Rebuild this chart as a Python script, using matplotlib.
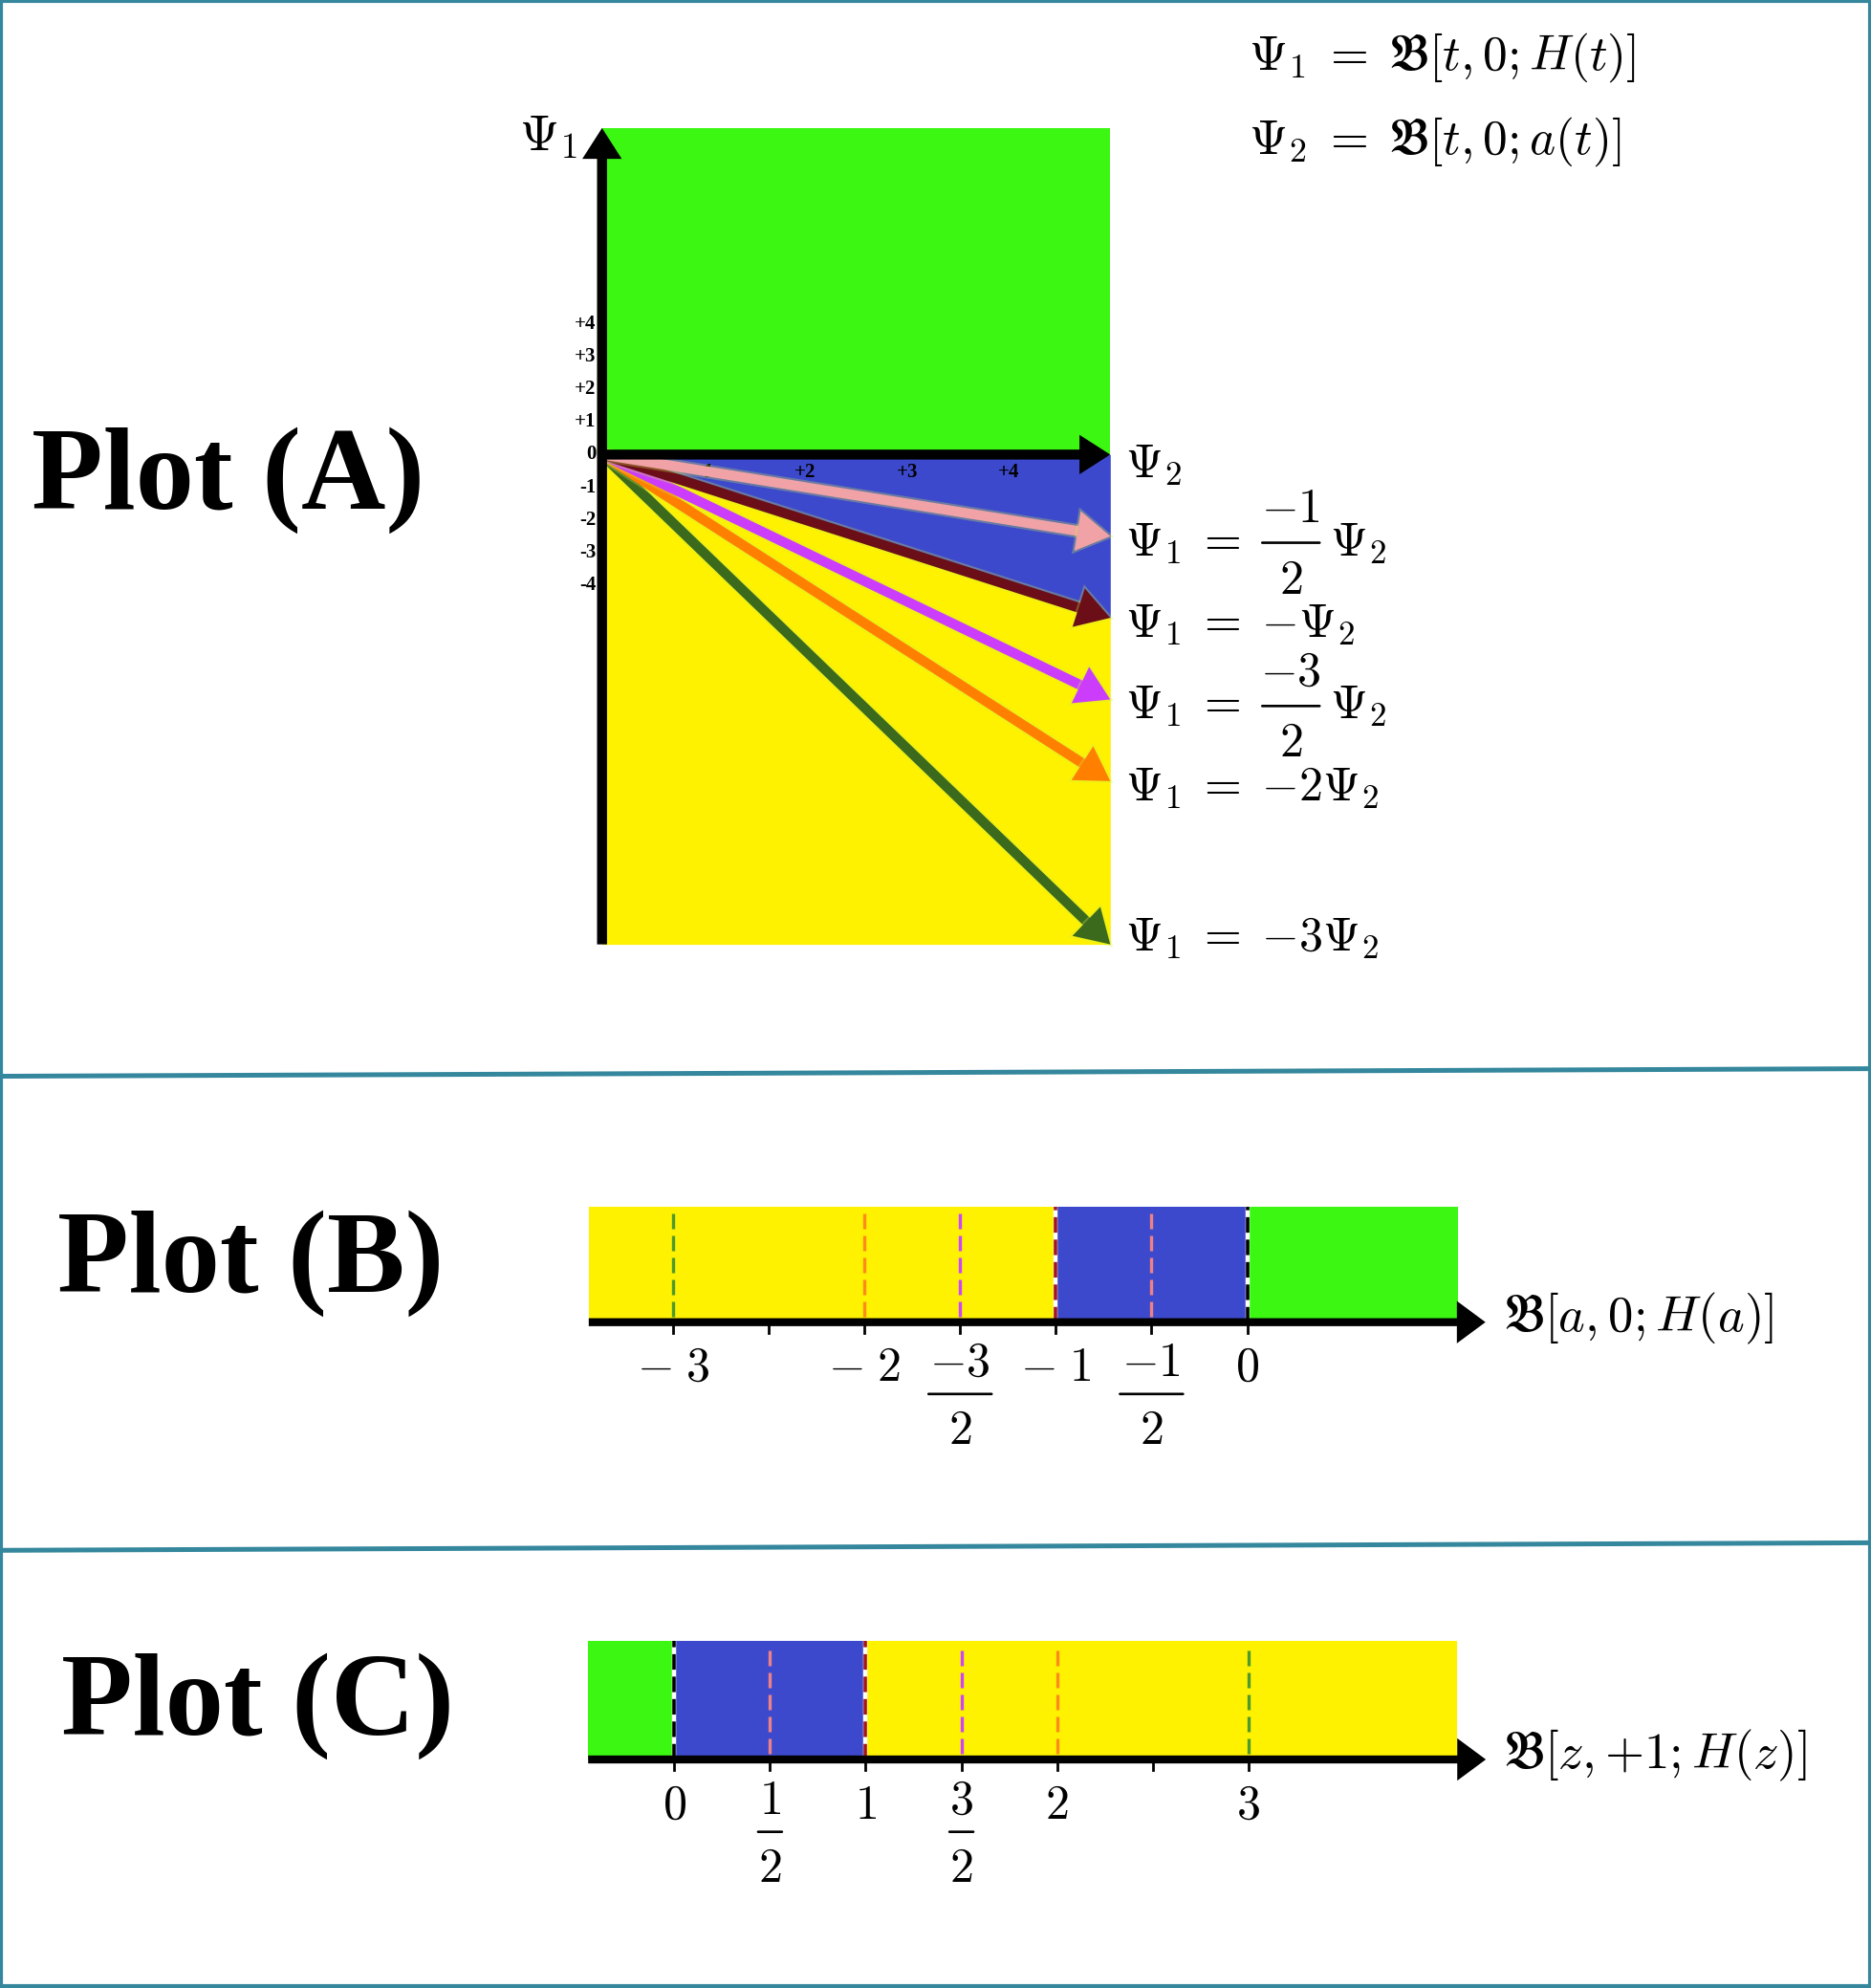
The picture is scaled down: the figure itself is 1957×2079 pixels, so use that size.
import numpy as np
import matplotlib
matplotlib.use("Agg")
import matplotlib.pyplot as plt
from matplotlib.lines import Line2D
from matplotlib.transforms import offset_copy
import matplotlib.patheffects as pe

plt.rcParams['mathtext.fontset'] = 'cm'

# ---------------- data ----------------
# Plot (A)
psi1_ticks = [4, 3, 2, 1, 0, -1, -2, -3, -4]
psi2_ticks = [1, 2, 3, 4]
psi2_max = 5
psi1_min, psi1_max = -15, 10
slopes = [-0.5, -1, -1.5, -2, -3]
# coefficient of Psi_2 in each line label: plain string or (numerator, denominator)
slope_coef = [('-1', '2'), '{-}', ('-3', '2'), '{-}2', '{-}3']
arrow_colors = ['#F0A2A6', '#6B0E18', '#CC3CFB', '#FF8000', '#3C6A1C']
blue_boundary_slope = -1

# Plot (B)
b_ticks = [-3, -2.5, -2, -1.5, -1, -0.5, 0]
b_ticklabels = [r'$-\;3$', '', r'$-\;2$', ('-3', '2'), r'$-\;1$', ('-1', '2'), r'$0$']
b_dash_pos = [-3, -2, -1.5, -1, -0.5, 0]
b_dash_colors = ['#4E9A2C', '#FF8A1C', '#CC44FF', '#A3141F', '#EE8088', 'black']
b_regions = [(-3.44, -1, 'yellow'), (-1, 0, 'blue'), (0, 1.10, 'green')]
b_xlim = (-3.44, 1.10)
b_arrow_end = 1.245
b_label = r'$\mathfrak{B}[a, 0; H(a)]$'

# Plot (C)
c_ticks = [0, 0.5, 1, 1.5, 2, 2.5, 3]
c_ticklabels = [r'$0$', ('1', '2'), r'$1$', ('3', '2'), r'$2$', '', r'$3$']
c_dash_pos = [0, 0.5, 1, 1.5, 2, 3]
c_dash_colors = ['black', '#EE8088', '#A3141F', '#CC44FF', '#FF8A1C', '#4E9A2C']
c_regions = [(-0.45, 0, 'green'), (0, 1, 'blue'), (1, 4.09, 'yellow')]
c_xlim = (-0.45, 4.09)
c_arrow_end = 4.24
c_label = r'$\mathfrak{B}[z, {+}1; H(z)]$'

COLORS = {'green': '#3BF712', 'blue': '#3D49CC', 'yellow': '#FEF200'}
TEAL = '#34879C'

# ---------------- figure ----------------
W, H = 1958, 2079
DPI = 100
fig = plt.figure(figsize=(W / DPI, H / DPI), dpi=DPI)
fig.patch.set_facecolor('white')


def rect(x0, y0, x1, y1):
    return [x0 / W, 1 - y1 / H, (x1 - x0) / W, (y1 - y0) / H]


def fig_line(x0, y0, x1, y1, **kw):
    fig.add_artist(Line2D([x0 / W, x1 / W], [1 - y0 / H, 1 - y1 / H],
                          transform=fig.transFigure, **kw))


def off(ax, dx, dy):
    return offset_copy(ax.transData, fig=fig, x=dx, y=dy, units='dots')


def stacked_frac(ax, x, y, num, den, fs, bar_w, dx=0, num_dy=0, bar_dy=-56, den_dy=-71):
    """fraction whose numerator top sits num_dy px from (x, y)"""
    ax.text(x, y, f'${num}$', fontsize=fs, ha='center', va='top',
            transform=off(ax, dx, num_dy))
    ax.annotate('', xy=(x, y), xytext=(x, y), xycoords=off(ax, dx + bar_w / 2, bar_dy),
                textcoords=off(ax, dx - bar_w / 2, bar_dy), annotation_clip=False,
                arrowprops=dict(arrowstyle='-', lw=1.9, color='black',
                                shrinkA=0, shrinkB=0))
    ax.text(x, y, f'${den}$', fontsize=fs, ha='center', va='top',
            transform=off(ax, dx, den_dy))


def sharp_arrow(ax, start, end, color, lw, hl, hw, zorder, halo=False):
    ann = ax.annotate('', xy=end, xytext=start, annotation_clip=False,
                      arrowprops=dict(arrowstyle=f'-|>,head_length={hl},head_width={hw}',
                                      lw=lw, color=color, shrinkA=0, shrinkB=0,
                                      mutation_scale=10), zorder=zorder)
    ann.arrow_patch.set_joinstyle('miter')
    ann.arrow_patch.set_capstyle('butt')
    if halo:
        ann.arrow_patch.set_path_effects([pe.Stroke(linewidth=lw + 3, foreground='#D2EE45',
                                                    alpha=0.3), pe.Normal()])
    return ann


# border and dividers
fig_line(0, 1, W, 1, color=TEAL, lw=3)
fig_line(1, 0, 1, H, color=TEAL, lw=3)
fig_line(W - 2, 0, W - 2, H, color=TEAL, lw=3)
fig_line(0, H - 2, W, H - 2, color=TEAL, lw=3)
fig_line(0, 1125.5, W, 1117.6, color=TEAL, lw=3.6)
fig_line(0, 1621.3, W, 1613.4, color=TEAL, lw=3.6)

# panel titles
title_kw = dict(fontsize=88, fontweight='bold', family='Liberation Serif',
                ha='left', va='center', transform=fig.transFigure)
fig.text(33 / W, 1 - 502 / H, 'Plot (A)', **title_kw)
fig.text(60 / W, 1 - 1321 / H, 'Plot (B)', **title_kw)
fig.text(64 / W, 1 - 1784 / H, 'Plot (C)', **title_kw)

MATH_FS = 36

# ---------------- Plot (A) ----------------
axA = fig.add_axes(rect(629.7, 133.9, 1161.3, 987.6))
axA.set_xlim(0, psi2_max)
axA.set_ylim(psi1_min, psi1_max)
axA.axis('off')
xs = np.array([0.0, psi2_max])
axA.fill_between(xs, 0, psi1_max, color=COLORS['green'], lw=0, zorder=1)
axA.fill_between(xs, 0, blue_boundary_slope * xs, color=COLORS['blue'], lw=0, zorder=1)
axA.fill_between(xs, blue_boundary_slope * xs, psi1_min, color=COLORS['yellow'], lw=0, zorder=1)

tick_kw = dict(fontsize=15, fontweight='bold', family='Liberation Serif', zorder=3)
for v in psi1_ticks:
    axA.text(-0.06, v, f'{v:+d}' if v != 0 else '0', ha='right', va='center', **tick_kw)
for v in psi2_ticks:
    axA.text(v, -0.55, f'{v:+d}', ha='center', va='center', **tick_kw)

sharp_arrow(axA, (0, 0), (psi2_max, 0), 'black', 7.5, 1.25, 0.8, 5)
sharp_arrow(axA, (0, psi1_min), (0, psi1_max), 'black', 7.5, 1.25, 0.8, 5)

for i in [4, 3, 2, 1, 0]:
    s, c = slopes[i], arrow_colors[i]
    sharp_arrow(axA, (0, 0), (psi2_max, s * psi2_max), c, 7.5, 1.4, 0.85, 4, halo=True)

for s, coef in zip(slopes, slope_coef):
    y = max(s * psi2_max - 0.2, psi1_min + 0.2)
    if isinstance(coef, tuple):
        axA.text(5.15, y, r'$\Psi_1\;=\;$', fontsize=MATH_FS, ha='left', va='center', zorder=6)
        stacked_frac(axA, 5.15, y, coef[0], coef[1], MATH_FS, 60, dx=173,
                     num_dy=60, bar_dy=0, den_dy=-15)
        axA.text(5.15, y, r'$\Psi_2$', fontsize=MATH_FS, ha='left', va='center',
                 transform=off(axA, 214, 0))
    else:
        axA.text(5.15, y, r'$\Psi_1\;=\;' + coef + r'\Psi_2$',
                 fontsize=MATH_FS, ha='left', va='center', zorder=6)

axA.text(-0.82, 9.75, r'$\Psi_1$', fontsize=38, ha='left', va='center')
axA.text(5.15, -0.3, r'$\Psi_2$', fontsize=MATH_FS, ha='left', va='center')

fig.text(1306 / W, 1 - 60 / H, r'$\Psi_1 \;=\; \mathfrak{B}[t, 0; H(t)]$',
         fontsize=37, ha='left', va='center')
fig.text(1306 / W, 1 - 148.5 / H, r'$\Psi_2 \;=\; \mathfrak{B}[t, 0; a(t)]$',
         fontsize=37, ha='left', va='center')


# ---------------- number lines ----------------
def number_line(ax_rect, xlim, regions, ticks, ticklabels, dash_pos, dash_colors,
                arrow_end, label):
    ax = fig.add_axes(ax_rect)
    ax.set_xlim(*xlim)
    ax.set_ylim(0, 1)
    ax.axis('off')
    for x0, x1, cname in regions:
        ax.fill_between([x0, x1], 0, 1, color=COLORS[cname], lw=0, zorder=1)
    for xp, col in zip(dash_pos, dash_colors):
        if col in ('black', '#A3141F'):
            ax.plot([xp, xp], [0, 1], color='white', lw=3.2, zorder=2, solid_capstyle='butt')
            ax.plot([xp, xp], [0, 1], color=col, lw=2.6, ls=(0, (4.5, 2.0)), zorder=3)
        else:
            ax.plot([xp, xp], [0.05, 0.96], color=col, lw=2.4, ls=(0, (4.8, 2.1)), zorder=3)
    sharp_arrow(ax, (xlim[0], 0), (arrow_end, 0), 'black', 6, 1.35, 1.0, 5)
    for t, lab in zip(ticks, ticklabels):
        ax.plot([t, t], [0, -0.09], color='black', lw=2, clip_on=False, zorder=5)
        if isinstance(lab, tuple):
            bw = 66 if lab[0].startswith('-') else 25
            stacked_frac(ax, t, -0.15, lab[0], lab[1], MATH_FS, bw,
                         num_dy=0, bar_dy=-57, den_dy=-71)
        elif lab:
            ax.text(t, -0.19, lab, fontsize=MATH_FS, ha='center', va='top')
    ax.text(arrow_end + 0.09, 0.03, label, fontsize=38, ha='left', va='center')
    return ax


unit = 200.2
b_zero = 1304.5
number_line(rect(b_zero + b_xlim[0] * unit, 1262.0, b_zero + b_xlim[1] * unit, 1382.7),
            b_xlim, b_regions, b_ticks, b_ticklabels, b_dash_pos, b_dash_colors,
            b_arrow_end, b_label)
c_zero = 705.3
number_line(rect(c_zero + c_xlim[0] * unit, 1715.5, c_zero + c_xlim[1] * unit, 1840.0),
            c_xlim, c_regions, c_ticks, c_ticklabels, c_dash_pos, c_dash_colors,
            c_arrow_end, c_label)

fig.savefig('out.png', dpi=DPI, facecolor='white')
